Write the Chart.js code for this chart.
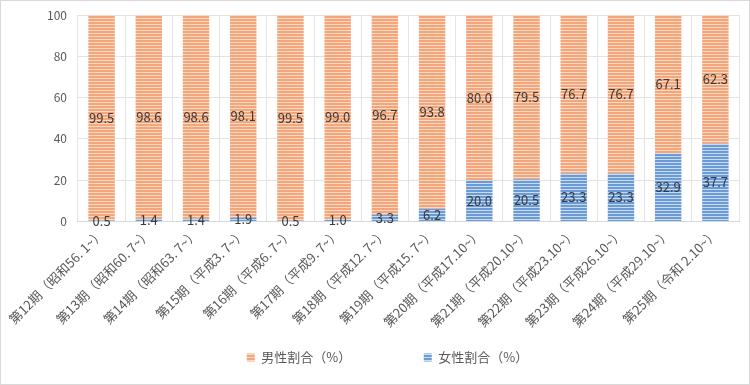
<!DOCTYPE html>
<html>
<head>
<meta charset="utf-8">
<script src="https://cdn.jsdelivr.net/npm/chart.js@4"></script>
<style>
  html, body { margin: 0; padding: 0; background: #fff; }
  #wrap { position: relative; width: 748px; height: 383px; border: 1px solid #d9d9d9; }
</style>
</head>
<body>
<div id="wrap"><canvas id="c" width="748" height="383"></canvas></div>
<script>
const categories = [
  '第12期（昭和56. 1~）', '第13期（昭和60. 7~）', '第14期（昭和63. 7~）',
  '第15期（平成3. 7~）', '第16期（平成6. 7~）', '第17期（平成9. 7~）',
  '第18期（平成12. 7~）', '第19期（平成15. 7~）', '第20期（平成17.10~）',
  '第21期（平成20.10~）', '第22期（平成23.10~）', '第23期（平成26.10~）',
  '第24期（平成29.10~）', '第25期（令和 2.10~）'
];
const femaleShare = [0.5, 1.4, 1.4, 1.9, 0.5, 1.0, 3.3, 6.2, 20.0, 20.5, 23.3, 23.3, 32.9, 37.7];
const maleShare = [99.5, 98.6, 98.6, 98.1, 99.5, 99.0, 96.7, 93.8, 80.0, 79.5, 76.7, 76.7, 67.1, 62.3];
const yTicks = [0, 20, 40, 60, 80, 100];

const FONT = "'Noto Sans CJK JP', 'Noto Sans', sans-serif";

// horizontal stripe fill like the Excel pattern
function stripes(base, light) {
  const p = document.createElement('canvas');
  p.width = 4; p.height = 3;
  const g = p.getContext('2d');
  g.fillStyle = base; g.fillRect(0, 0, 4, 3);
  g.fillStyle = light; g.fillRect(0, 2, 4, 1);
  return g.createPattern(p, 'repeat');
}
const ctx = document.getElementById('c').getContext('2d');
const orange = stripes('#f4a67b', '#fbd9c4');
const blue = stripes('#6a9bd6', '#c8dbf1');

// value labels centered on each segment
const segLabels = {
  id: 'segLabels',
  afterDatasetsDraw(chart) {
    const c = chart.ctx;
    c.save();
    c.font = '13px ' + FONT;
    c.fillStyle = '#3a3a3a';
    c.textAlign = 'center';
    c.textBaseline = 'middle';
    chart.data.datasets.forEach((ds, i) => {
      chart.getDatasetMeta(i).data.forEach((bar, j) => {
        const y = (bar.y + bar.base) / 2;
        c.fillText(ds.data[j].toFixed(1), bar.x, y);
      });
    });
    c.restore();
  }
};

new Chart(ctx, {
  type: 'bar',
  data: {
    labels: categories,
    datasets: [
      { label: '女性割合（%）', data: femaleShare, backgroundColor: blue },
      // trailing ideographic spaces give the wide gap between legend items
      { label: '男性割合（%）　　　　　', data: maleShare, backgroundColor: orange }
    ]
  },
  options: {
    responsive: false,
    animation: false,
    layout: { padding: { left: 35, right: 10, top: 14, bottom: 10 } },
    datasets: { bar: { barPercentage: 0.56, categoryPercentage: 1 } },
    scales: {
      x: {
        stacked: true,
        // a little extra room under the rotated labels so the plot ends at the same height
        afterFit(axis) { axis.height += 3; },
        grid: { color: '#e3e3e3', offset: true, drawTicks: false },
        border: { color: '#d9d9d9' },
        ticks: {
          font: { family: FONT, size: 13 }, color: '#595959',
          maxRotation: 45, minRotation: 45, autoSkip: false, padding: 4
        }
      },
      y: {
        stacked: true, min: 0, max: 100,
        afterBuildTicks(axis) { axis.ticks = yTicks.map(v => ({ value: v })); },
        // keep the tick padding from pushing the plot top down
        afterFit(axis) { axis.paddingTop = 0; axis.paddingBottom = 0; },
        grid: { color: '#e3e3e3', drawTicks: false },
        border: { display: false },
        ticks: { font: { family: FONT, size: 12 }, color: '#595959', padding: 11 }
      }
    },
    plugins: {
      tooltip: { enabled: false },
      legend: {
        position: 'bottom',
        reverse: true,
        labels: {
          font: { family: FONT, size: 13 }, color: '#595959',
          boxWidth: 8, boxHeight: 8, padding: 14
        }
      }
    }
  },
  plugins: [segLabels]
});
</script>
</body>
</html>
